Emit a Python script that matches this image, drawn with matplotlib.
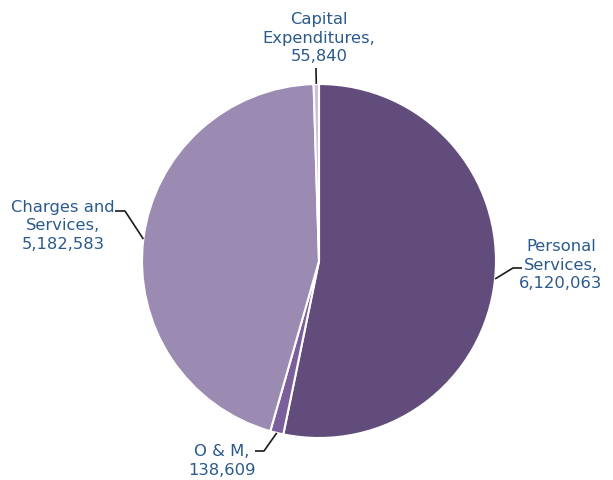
import numpy as np
import matplotlib
matplotlib.use("Agg")
import matplotlib.pyplot as plt

categories = ["Personal Services", "O & M", "Charges and Services", "Capital Expenditures"]
label_lines = ["Personal\nServices,", "O & M,", "Charges and\nServices,", "Capital\nExpenditures,"]
values = [6120063, 138609, 5182583, 55840]
colors = ["#624C7C", "#7B5F9C", "#9B8AB1", "#CBC2DA"]

W, H = 613, 480
fig = plt.figure(figsize=(W / 100, H / 100), dpi=100)
ax = fig.add_axes([0, 0, 1, 1])

cx, cy, r = 319, H - 261, 177
wedges, _ = ax.pie(values, colors=colors, startangle=90, counterclock=False,
                   center=(cx, cy), radius=r, frame=True,
                   wedgeprops=dict(edgecolor="white", linewidth=1.5))
ax.set_xlim(0, W)
ax.set_ylim(0, H)
ax.axis("off")

text_color = "#2A5A8C"
fs = 11.8

# label placement: text centre (top-origin px) and leader-line elbow points
layout = {
    "Personal Services": dict(tx=561, ty=265, elbow=[(513, 268), (522, 268)]),
    "O & M": dict(tx=222, ty=461, elbow=[(264, 451), (255, 451)]),
    "Charges and Services": dict(tx=63, ty=226, elbow=[(125, 211), (115, 211)]),
    "Capital Expenditures": dict(tx=319, ty=38, elbow=[(316, 68)]),
}

for w, cat, lab, v in zip(wedges, categories, label_lines, values):
    mid = np.deg2rad((w.theta1 + w.theta2) / 2)
    ex, ey = cx + r * np.cos(mid), cy + r * np.sin(mid)
    L = layout[cat]
    xs = [ex] + [p[0] for p in L["elbow"]]
    ys = [ey] + [H - p[1] for p in L["elbow"]]
    ax.plot(xs, ys, color="#1a1a1a", lw=1.2, solid_capstyle="butt")
    ax.text(L["tx"], H - L["ty"], f"{lab}\n{v:,}", ha="center", va="center",
            color=text_color, fontsize=fs, family="DejaVu Sans", linespacing=1.27)

fig.savefig("out.png", dpi=100)
